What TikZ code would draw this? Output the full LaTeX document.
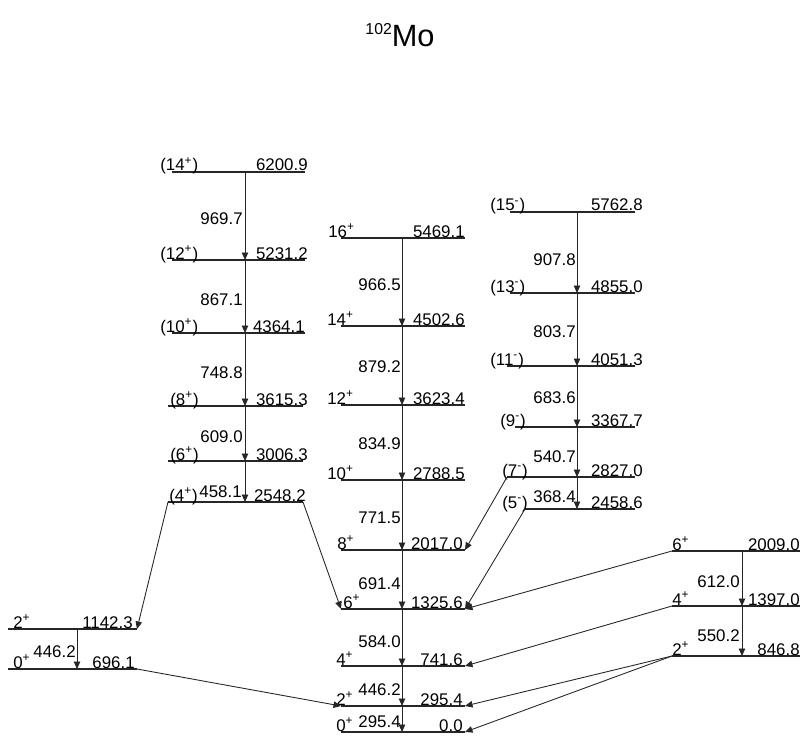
\documentclass[tikz,border=0pt]{standalone}
\usepackage{fontspec}
\setmainfont{Liberation Sans}
\usetikzlibrary{arrows.meta}

\begin{document}
\begin{tikzpicture}[
x=0.02cm, y=-0.02cm,
font=\fontsize{9.6}{11}\selectfont,
lvl/.style={line width=0.9pt, draw=black!85},
tr/.style={-{Triangle[length=1.5mm,width=1.3mm]}, line width=0.5pt, draw=black!85},
spin/.style={anchor=base west, inner sep=0pt},
en/.style={anchor=base east, inner sep=0pt},
gam/.style={anchor=base east, inner sep=0pt}
]
\useasboundingbox (0,0) rectangle (810,736);

% Title
\node[anchor=base, inner sep=0pt] (title) at (400,47) {\raisebox{7pt}{\fontsize{9}{10}\selectfont 102}\fontsize{17.5}{20}\selectfont Mo};

% Band A
\draw[lvl] (172,172) coordinate (a14L) -- (245,172) coordinate (a14) -- (305,172) coordinate (a14R);
\draw[lvl] (172,260) coordinate (a12L) -- (245,260) coordinate (a12) -- (305,260) coordinate (a12R);
\draw[lvl] (172,333) coordinate (a10L) -- (245,333) coordinate (a10) -- (305,333) coordinate (a10R);
\draw[lvl] (168,406) coordinate (a8L) -- (245,406) coordinate (a8) -- (303,406) coordinate (a8R);
\draw[lvl] (168,461) coordinate (a6L) -- (245,461) coordinate (a6) -- (303,461) coordinate (a6R);
\draw[lvl] (168,502) coordinate (a4L) -- (245,502) coordinate (a4) -- (303,502) coordinate (a4R);

\node[spin] (a14s) at (160,171) {(14\textsuperscript{+})};
\node[spin] (a12s) at (160,259) {(12\textsuperscript{+})};
\node[spin] (a10s) at (160,332) {(10\textsuperscript{+})};
\node[spin] (a8s) at (170,405) {(8\textsuperscript{+})};
\node[spin] (a6s) at (170,460) {(6\textsuperscript{+})};
\node[spin] (a4s) at (169,501) {(4\textsuperscript{+})};

\node[en] (a14e) at (308,171) {6200.9};
\node[en] (a12e) at (308,259) {5231.2};
\node[en] (a10e) at (305,332) {4364.1};
\node[en] (a8e) at (308,405) {3615.3};
\node[en] (a6e) at (308,460) {3006.3};
\node[en] (a4e) at (306,501) {2548.2};

\draw[tr] (a14) -- (a12);
\draw[tr] (a12) -- (a10);
\draw[tr] (a10) -- (a8);
\draw[tr] (a8) -- (a6);
\draw[tr] (a6) -- (a4);

\node[gam] (ga1) at (243,225) {969.7};
\node[gam] (ga2) at (243,305) {867.1};
\node[gam] (ga3) at (243,378) {748.8};
\node[gam] (ga4) at (243,442) {609.0};
\node[gam] (ga5) at (242,497) {458.1};

% Band B (yrast)
\draw[lvl] (341,238) coordinate (b16L) -- (402,238) coordinate (b16) -- (465,238) coordinate (b16R);
\draw[lvl] (341,326) coordinate (b14L) -- (402,326) coordinate (b14) -- (465,326) coordinate (b14R);
\draw[lvl] (341,405) coordinate (b12L) -- (402,405) coordinate (b12) -- (465,405) coordinate (b12R);
\draw[lvl] (341,480) coordinate (b10L) -- (402,480) coordinate (b10) -- (465,480) coordinate (b10R);
\draw[lvl] (341,550) coordinate (b8L) -- (402,550) coordinate (b8) -- (465,550) coordinate (b8R);
\draw[lvl] (341,609) coordinate (b6L) -- (402,609) coordinate (b6) -- (465,609) coordinate (b6R);
\draw[lvl] (341,666) coordinate (b4L) -- (402,666) coordinate (b4) -- (465,666) coordinate (b4R);
\draw[lvl] (341,706) coordinate (b2L) -- (402,706) coordinate (b2) -- (465,706) coordinate (b2R);
\draw[lvl] (341,732) coordinate (b0L) -- (402,732) coordinate (b0) -- (465,732) coordinate (b0R);

\node[spin] (b16s) at (328,237) {16\textsuperscript{+}};
\node[spin] (b14s) at (327,325) {14\textsuperscript{+}};
\node[spin] (b12s) at (327,404) {12\textsuperscript{+}};
\node[spin] (b10s) at (327,479) {10\textsuperscript{+}};
\node[spin] (b8s) at (337,549) {8\textsuperscript{+}};
\node[spin] (b6s) at (343,608) {6\textsuperscript{+}};
\node[spin] (b4s) at (336,665) {4\textsuperscript{+}};
\node[spin] (b2s) at (336,705) {2\textsuperscript{+}};
\node[spin] (b0s) at (336,731) {0\textsuperscript{+}};

\node[en] (b16e) at (465,237) {5469.1};
\node[en] (b14e) at (465,325) {4502.6};
\node[en] (b12e) at (465,404) {3623.4};
\node[en] (b10e) at (465,479) {2788.5};
\node[en] (b8e) at (463,549) {2017.0};
\node[en] (b6e) at (463,608) {1325.6};
\node[en] (b4e) at (463,665) {741.6};
\node[en] (b2e) at (463,705) {295.4};
\node[en] (b0e) at (463,731) {0.0};

\draw[tr] (b16) -- (b14);
\draw[tr] (b14) -- (b12);
\draw[tr] (b12) -- (b10);
\draw[tr] (b10) -- (b8);
\draw[tr] (b8) -- (b6);
\draw[tr] (b6) -- (b4);
\draw[tr] (b4) -- (b2);
\draw[tr] (b2) -- (b0);

\node[gam] (gb1) at (401,290) {966.5};
\node[gam] (gb2) at (401,372) {879.2};
\node[gam] (gb3) at (401,449) {834.9};
\node[gam] (gb4) at (401,523) {771.5};
\node[gam] (gb5) at (401,589) {691.4};
\node[gam] (gb6) at (401,647) {584.0};
\node[gam] (gb7) at (401,695) {446.2};
\node[gam] (gb8) at (401,727) {295.4};

% Band C (negative parity)
\draw[lvl] (510,212) coordinate (c15L) -- (577,212) coordinate (c15) -- (635,212) coordinate (c15R);
\draw[lvl] (510,293) coordinate (c13L) -- (577,293) coordinate (c13) -- (635,293) coordinate (c13R);
\draw[lvl] (507,366) coordinate (c11L) -- (577,366) coordinate (c11) -- (635,366) coordinate (c11R);
\draw[lvl] (515,427) coordinate (c9L) -- (577,427) coordinate (c9) -- (635,427) coordinate (c9R);
\draw[lvl] (507,477) coordinate (c7L) -- (577,477) coordinate (c7) -- (635,477) coordinate (c7R);
\draw[lvl] (525,509) coordinate (c5L) -- (577,509) coordinate (c5) -- (635,509) coordinate (c5R);

\node[spin] (c15s) at (490,211) {(15\textsuperscript{-})};
\node[spin] (c13s) at (490,292) {(13\textsuperscript{-})};
\node[spin] (c11s) at (490,365) {(11\textsuperscript{-})};
\node[spin] (c9s) at (500,426) {(9\textsuperscript{-})};
\node[spin] (c7s) at (502,476) {(7\textsuperscript{-})};
\node[spin] (c5s) at (502,508) {(5\textsuperscript{-})};

\node[en] (c15e) at (643,211) {5762.8};
\node[en] (c13e) at (643,292) {4855.0};
\node[en] (c11e) at (643,365) {4051.3};
\node[en] (c9e) at (643,426) {3367.7};
\node[en] (c7e) at (643,476) {2827.0};
\node[en] (c5e) at (643,508) {2458.6};

\draw[tr] (c15) -- (c13);
\draw[tr] (c13) -- (c11);
\draw[tr] (c11) -- (c9);
\draw[tr] (c9) -- (c7);
\draw[tr] (c7) -- (c5);

\node[gam] (gc1) at (576,265) {907.8};
\node[gam] (gc2) at (576,337) {803.7};
\node[gam] (gc3) at (576,403) {683.6};
\node[gam] (gc4) at (576,462) {540.7};
\node[gam] (gc5) at (576,502) {368.4};

% Band D (gamma band)
\draw[lvl] (672,551) coordinate (d6L) -- (742,551) coordinate (d6) -- (800,551) coordinate (d6R);
\draw[lvl] (672,606) coordinate (d4L) -- (742,606) coordinate (d4) -- (800,606) coordinate (d4R);
\draw[lvl] (672,656) coordinate (d2L) -- (742,656) coordinate (d2) -- (800,656) coordinate (d2R);

\node[spin] (d6s) at (672,550) {6\textsuperscript{+}};
\node[spin] (d4s) at (672,605) {4\textsuperscript{+}};
\node[spin] (d2s) at (672,655) {2\textsuperscript{+}};

\node[en] (d6e) at (800,550) {2009.0};
\node[en] (d4e) at (800,605) {1397.0};
\node[en] (d2e) at (800,655) {846.8};

\draw[tr] (d6) -- (d4);
\draw[tr] (d4) -- (d2);

\node[gam] (gd1) at (740,587) {612.0};
\node[gam] (gd2) at (740,641) {550.2};

% Band E (second 0+)
\draw[lvl] (8,629) coordinate (e2L) -- (77,629) coordinate (e2) -- (137,629) coordinate (e2R);
\draw[lvl] (8,669) coordinate (e0L) -- (77,669) coordinate (e0) -- (137,669) coordinate (e0R);

\node[spin] (e2s) at (13,628) {2\textsuperscript{+}};
\node[spin] (e0s) at (13,668) {0\textsuperscript{+}};

\node[en] (e2e) at (133,628) {1142.3};
\node[en] (e0e) at (135,668) {696.1};

\draw[tr] (e2) -- (e0);
\node[gam] (ge1) at (76,657) {446.2};

% Interband transitions
\draw[tr] (a4L) -- (e2R);
\draw[tr] (a4R) -- (b6L);
\draw[tr] (c7L) -- (b8R);
\draw[tr] (c5L) -- (b6R);
\draw[tr] (d6L) -- (b6R);
\draw[tr] (d4L) -- (b4R);
\draw[tr] (d2L) -- (b2R);
\draw[tr] (d2L) -- (b0R);
\draw[tr] (e0R) -- (b2L);

\end{tikzpicture}
\end{document}
